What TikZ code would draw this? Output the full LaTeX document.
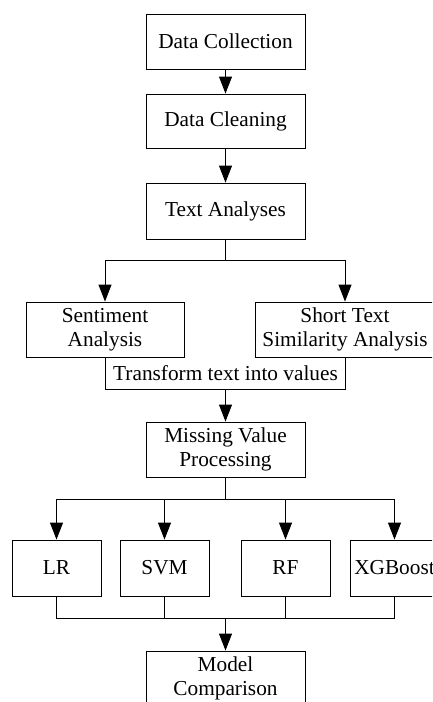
\documentclass[tikz,border=0pt]{standalone}
\usepackage{fontspec}
\setmainfont{Liberation Serif}
\usetikzlibrary{arrows.meta}
\tikzset{
  box/.style={draw, line width=0.9pt, rectangle, inner sep=0pt, align=center,
    font=\fontsize{21.3}{23.5}\selectfont},
  lbl/.style={inner sep=0pt, align=center, font=\fontsize{21.3}{23.5}\selectfont},
  link/.style={line width=0.9pt},
  arr/.style={line width=0.9pt, -{Triangle[length=17pt,width=13pt]}},
}
\begin{document}
\begin{tikzpicture}[x=1pt,y=-1pt]
\clip (0,0) rectangle (432,702);
\fill[white] (0,0) rectangle (432,702);

% main column
\node[box, minimum width=159pt, minimum height=55pt] (dc)  at (225.5,41.5) {Data Collection};
\node[box, minimum width=159pt, minimum height=54pt] (dcl) at (225.5,121)  {Data Cleaning};
\node[box, minimum width=159pt, minimum height=56pt] (ta)  at (225.5,211)  {Text Analyses};

% text analysis branches
\node[box, minimum width=158pt, minimum height=55pt] (sa) at (105,329.5) {Sentiment\\Analysis};
\node[box, minimum width=180pt, minimum height=55pt] (st) at (345,329.5) {Short Text\\Similarity Analysis};

% open-topped label box under both analyses
\node[lbl, minimum width=239pt, minimum height=32pt] (tr) at (225.5,373) {Transform text into values};
\draw[link] (tr.north west) -- (tr.south west) -- (tr.south east) -- (tr.north east);

\node[box, minimum width=159pt, minimum height=55pt] (mv) at (225.5,449.5) {Missing Value\\Processing};

% models
\node[box, minimum width=89pt, minimum height=56pt] (lr)  at (56.5,568)  {LR};
\node[box, minimum width=89pt, minimum height=56pt] (svm) at (164.5,568) {SVM};
\node[box, minimum width=89pt, minimum height=56pt] (rf)  at (285.5,568) {RF};
\node[box, minimum width=89pt, minimum height=56pt] (xg)  at (394.5,568) {XGBoost};

\node[box, minimum width=159pt, minimum height=55pt] (mc) at (225.5,678.5) {Model\\Comparison};

% connectors
\draw[arr] (dc) -- (dcl);
\draw[arr] (dcl) -- (ta);

\coordinate (s1) at (225.5,260);
\draw[link] (ta) -- (s1);
\draw[arr] (s1) -| (sa);
\draw[arr] (s1) -| (st);

\draw[arr] (tr) -- (mv);

\coordinate (s2) at (225.5,499);
\draw[link] (mv) -- (s2);
\draw[arr] (s2) -| (lr);
\draw[arr] (s2) -| (svm);
\draw[arr] (s2) -| (rf);
\draw[arr] (s2) -| (xg);

\coordinate (m2) at (225.5,618);
\draw[link] (lr) |- (m2);
\draw[link] (svm) |- (m2);
\draw[link] (rf) |- (m2);
\draw[link] (xg) |- (m2);
\draw[arr] (m2) -- (mc);
\end{tikzpicture}
\end{document}
